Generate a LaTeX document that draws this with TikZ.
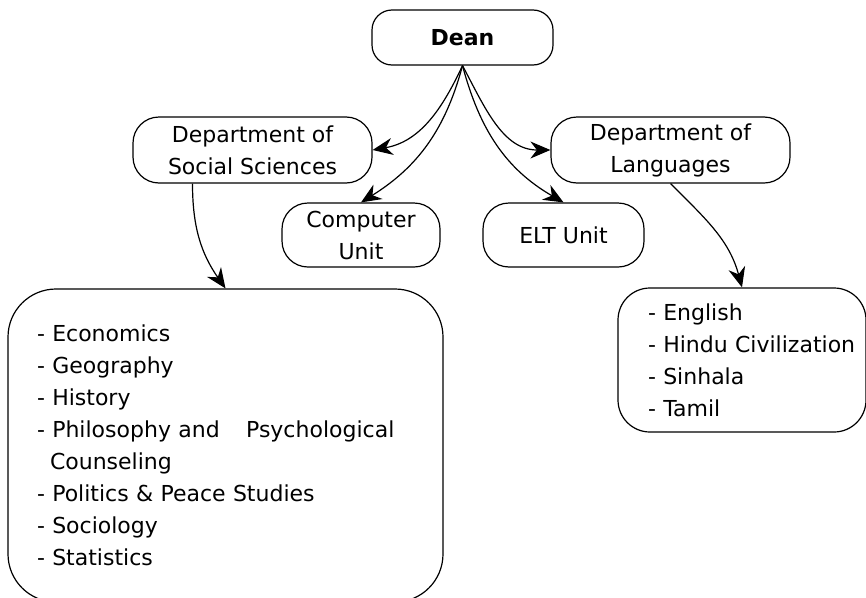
\documentclass[tikz,border=0pt]{standalone}
\usepackage{fontspec}
\setmainfont{DejaVu Sans}
\usetikzlibrary{arrows.meta}

\begin{document}
\begin{tikzpicture}[
    x=1pt, y=-1pt,
    text centered,
	unit/.style={
	  rectangle,
	  rounded corners=26pt,
	  draw,
	  line width=1.2pt,
	  inner sep=0pt,
	  align=center,
	  font=\fontsize{22}{32}\selectfont
	},
	list/.style={
	  rectangle,
	  draw,
	  line width=1.2pt,
	  inner ysep=0pt,
	  align=left,
	  font=\fontsize{22}{32}\selectfont
	},
 	line/.style={draw, line width=1.2pt, -{Stealth[length=20pt,width=17pt]}}
	]
	\useasboundingbox (0,0) rectangle (866,597);
	\node at (462.5, 37.5) [unit, rounded corners=20pt, minimum width=181pt, minimum height=55pt] (dean) {\textbf{Dean}};
	\node at (252.5, 150) [unit, minimum width=239pt, minimum height=66pt] (socsci) {Department of\\Social Sciences};
	\node at (670.5, 150) [unit, minimum width=239pt, minimum height=66pt] (lang) {Department of\\Languages};
	\node at (361, 235) [unit, minimum width=158pt, minimum height=64pt] (comp) {Computer\\Unit};
	\node at (563.5, 235) [unit, minimum width=161pt, minimum height=64pt] (elt) {ELT Unit};
	\node at (225.5, 445.5) [list, rounded corners=48pt, text width=377pt, inner xsep=29pt, minimum height=313pt] (soclist)
	  {- Economics\\- Geography\\- History\\- Philosophy and\hspace{19pt} Psychological\\\hspace*{13pt}Counseling\\- Politics \& Peace Studies\\- Sociology\\- Statistics};
	\node at (742, 360) [list, rounded corners=32pt, text width=188pt, inner xsep=30pt, minimum height=144pt] (langlist)
	  {- English\\\mbox{- Hindu Civilization}\\- Sinhala\\- Tamil};
	\path [line] (dean.south) to[out=-115, in=10] (socsci.east);
	\path [line] (dean.south) to[out=-105, in=32] (comp.north);
	\path [line] (dean.south) to[out=-75, in=150] (elt.north);
	\path [line] (dean.south) to[out=-62, in=180] (lang.west);
	\path [line] ([xshift=-60pt]socsci.south) to[out=-90, in=125] (soclist.north);
	\path [line] (lang.south) to[out=-45, in=105] (langlist.north);
  \end{tikzpicture}
\end{document}
